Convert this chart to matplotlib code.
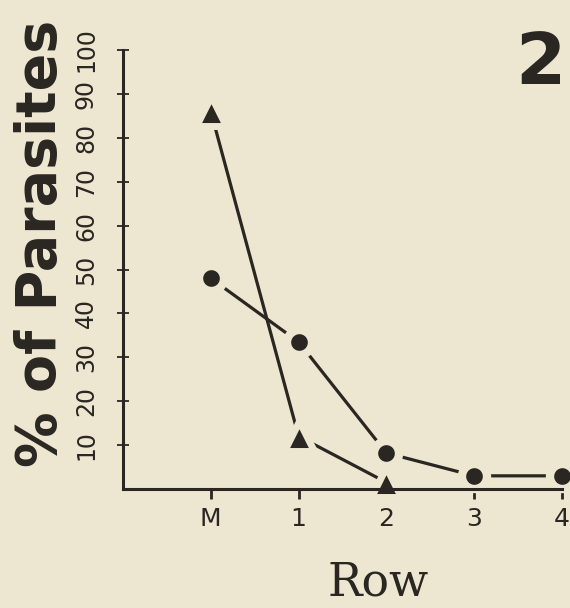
import numpy as np
import matplotlib.pyplot as plt

# row positions (M = mother row)
rows = ["M", "1", "2", "3", "4"]
y_ticks = [10, 20, 30, 40, 50, 60, 70, 80, 90, 100]

tri_x = [0, 1, 2]
tri_y = [86, 12, 1.5]

dot_x = [0, 1, 2, 3, 4]
dot_y = [48, 33.5, 8.2, 3, 3]

bg = "#ede6d1"
ink = "#2a2621"

fig = plt.figure(figsize=(5.7, 6.08), dpi=100, facecolor=bg)
ax = fig.add_axes([123 / 570, 1 - 489 / 608, (562 - 123) / 570, (489 - 50) / 608])
ax.set_facecolor(bg)

for xs, ys, mk, ms, mew in [(tri_x, tri_y, "^", 21, 5), (dot_x, dot_y, "o", 18, 6)]:
    ax.plot(xs, ys, color=ink, lw=2.3, zorder=2, clip_on=False)
    ax.plot(xs, ys, ls="none", marker=mk, ms=ms, mfc=ink, mec=bg, mew=mew,
            zorder=2.2, clip_on=False)

ax.set_xlim(-1, 4)
ax.set_ylim(0, 100)

for s in ["top", "right"]:
    ax.spines[s].set_visible(False)
for s in ["left", "bottom"]:
    ax.spines[s].set_linewidth(2.2)
    ax.spines[s].set_color(ink)

ax.set_xticks(range(len(rows)))
ax.set_xticklabels(rows, fontsize=18, family="DejaVu Sans", color=ink)
ax.tick_params(axis="x", direction="out", length=7, width=2, color=ink, pad=6)

ax.set_yticks(y_ticks)
ax.set_yticklabels([str(v) for v in y_ticks], rotation=90, va="center",
                   fontsize=17, family="DejaVu Sans", color=ink)
ax.tick_params(axis="y", direction="inout", length=8, width=1.3, color=ink, pad=14)

ax.set_ylabel("% of Parasites", fontsize=40, family="DejaVu Sans",
              fontweight="bold", color=ink)
ax.yaxis.set_label_coords((68 - 123) / 439, (489 - 243) / 439)
ax.set_xlabel("Row", fontsize=33, family="DejaVu Serif", color=ink)
ax.xaxis.set_label_coords((378 - 123) / 439, (489 - 560) / 439)

fig.text(540 / 570, 1 - 64 / 608, "2", fontsize=52, fontweight="bold",
         family="DejaVu Sans", color=ink, ha="center", va="center")

fig.savefig("out.png", dpi=100, facecolor=bg)
